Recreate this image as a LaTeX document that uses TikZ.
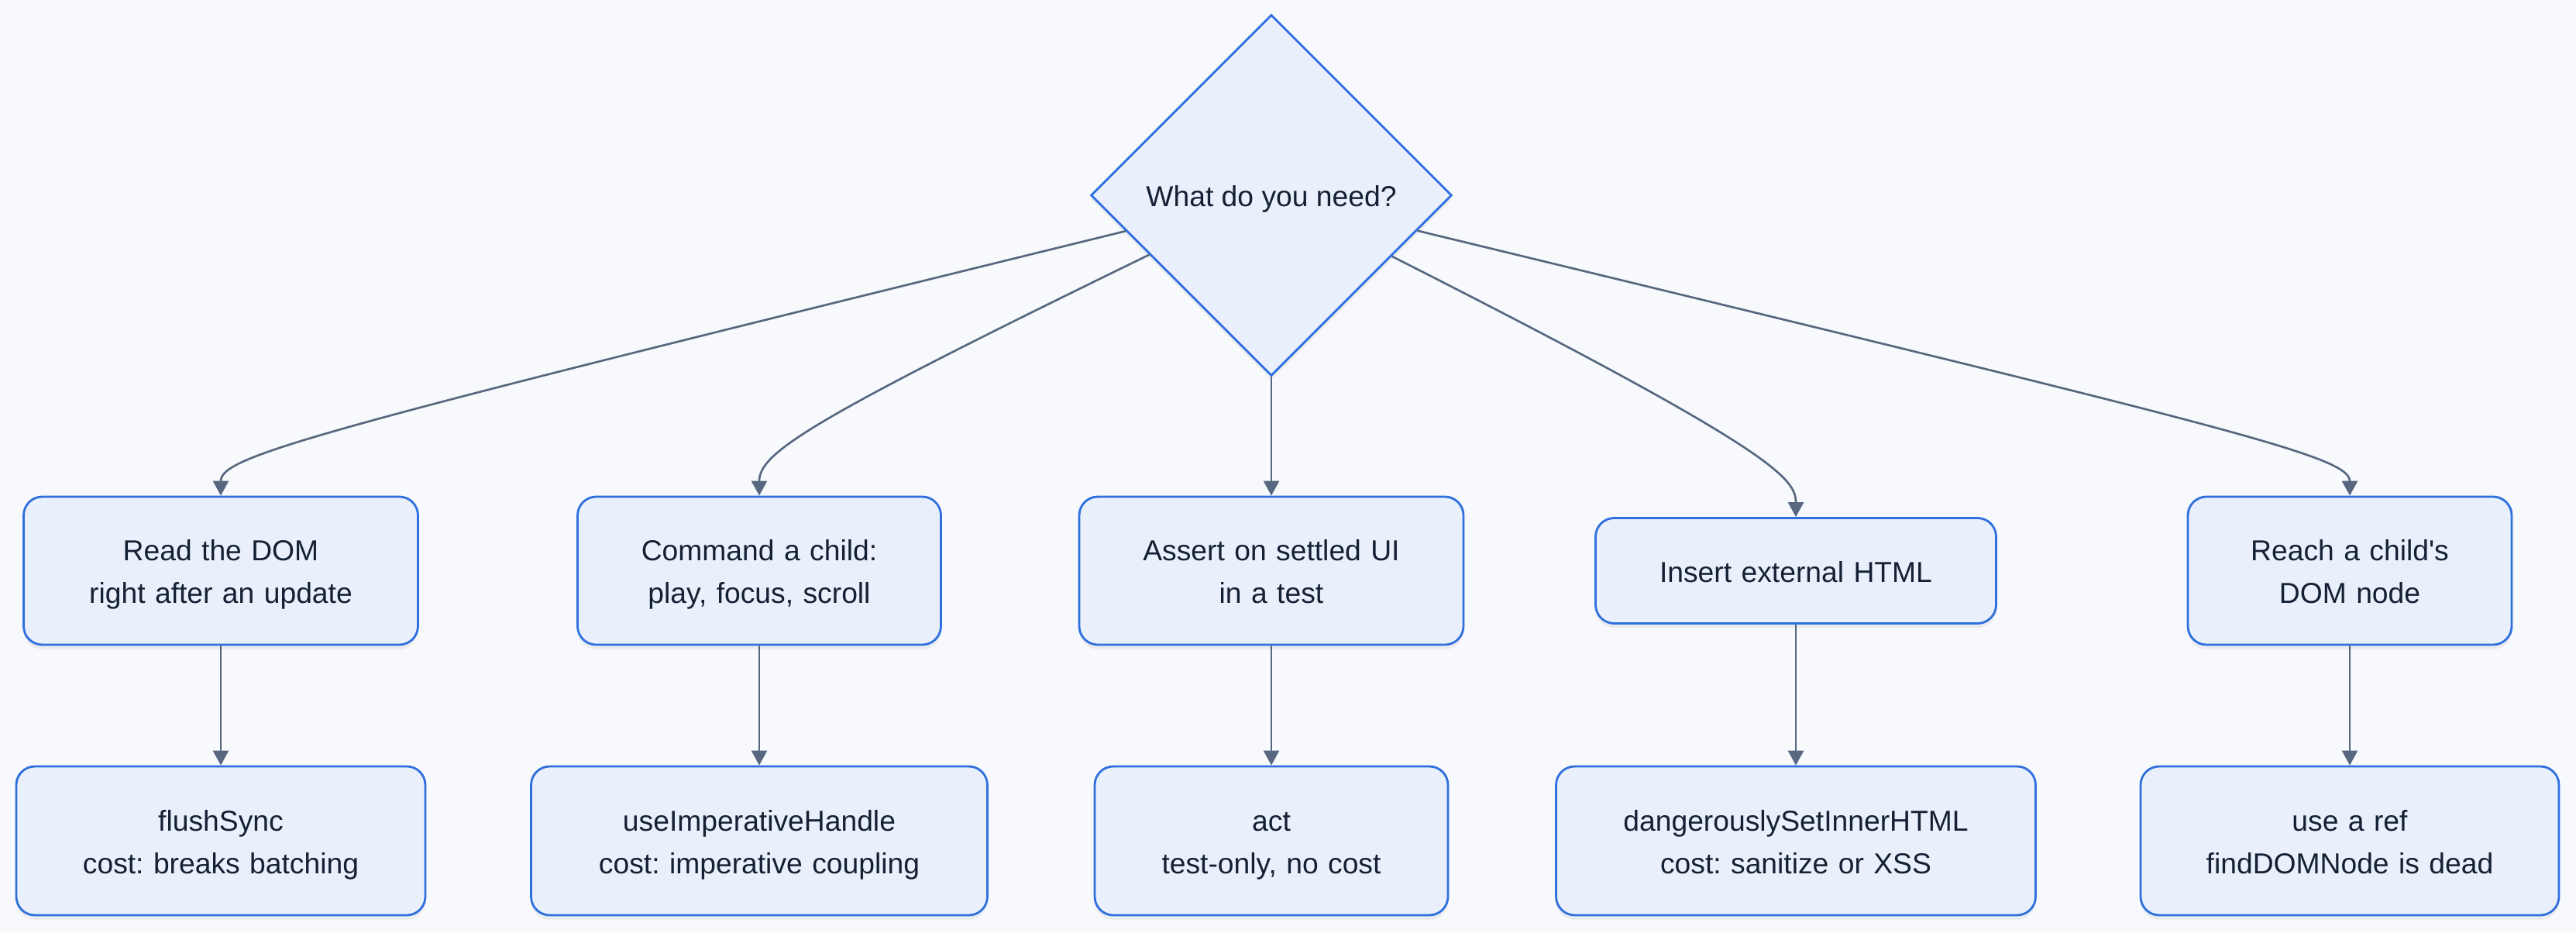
\documentclass[tikz,border=0pt]{standalone}
\usepackage{fontspec}
\setmainfont{Liberation Sans}
\usetikzlibrary{arrows.meta, shapes.geometric, calc, shadows}

\definecolor{bgc}{HTML}{F7F9FC}
\definecolor{boxfill}{HTML}{E9F0FB}
\definecolor{boxline}{HTML}{3070DE}
\definecolor{arrc}{HTML}{56677F}
\definecolor{txt}{HTML}{142033}

% line box strut: baseline sits 4.17pt below the line centre
\newcommand{\lnstrut}{\rule[-3.68pt]{0pt}{15.7pt}}

\begin{document}
\frenchspacing
\begin{tikzpicture}[
  every node/.style={font=\fontsize{10.6}{15.7}\selectfont, text=txt,
                     execute at begin node=\lnstrut,
                     execute at end node=\lnstrut},
  box/.style={draw=boxline, fill=boxfill, line width=0.8pt,
              rounded corners=0.24cm, align=center, inner sep=0pt,
              text width=#1, minimum width=#1,
              drop shadow={shadow xshift=0pt, shadow yshift=-0.06cm,
                           opacity=0.05, fill=black}},
  need/.style={box=#1, minimum height=1.91cm},
  api/.style= {box=#1, minimum height=1.92cm},
  choice/.style={diamond, aspect=1, draw=boxline, fill=boxfill,
                 line width=0.8pt, inner sep=0pt,
                 minimum width=4.66cm, minimum height=4.66cm,
                 drop shadow={shadow xshift=0pt, shadow yshift=-0.06cm,
                              opacity=0.05, fill=black}},
  arr/.style={-{Triangle[width=0.2cm, length=0.19cm]}, draw=arrc,
              line width=0.75pt}
]

\path[use as bounding box, fill=bgc] (0,0) rectangle (33.25,-12.03);

%% ---- DECISION --------------------------------------------------
\node[choice] (q) at (16.41, -2.52) {What do you need?};

%% ---- NEEDS (y=-7.365) ------------------------------------------
\node[need=5.09cm] (r1) at (2.85,  -7.365) {Read the DOM\\right after an update};
\node[need=4.69cm] (r2) at (9.80,  -7.365) {Command a child:\\play, focus, scroll};
\node[need=4.96cm] (r3) at (16.41, -7.365) {Assert on settled UI\\in a test};
\node[box=5.17cm, minimum height=1.36cm] (r4) at (23.18, -7.365)
  {Insert external HTML};
\node[need=4.18cm] (r5) at (30.33, -7.365) {Reach a child\textquotesingle s\\DOM node};

%% ---- ANSWERS (y=-10.85) ----------------------------------------
\node[api=5.28cm] (s1) at (2.85,  -10.85) {flushSync\\cost: breaks batching};
\node[api=5.89cm] (s2) at (9.80,  -10.85) {useImperativeHandle\\cost: imperative coupling};
\node[api=4.56cm] (s3) at (16.41, -10.85) {act\\test-only, no cost};
\node[api=6.19cm] (s4) at (23.18, -10.85) {dangerouslySetInnerHTML\\cost: sanitize or XSS};
\node[api=5.40cm] (s5) at (30.33, -10.85) {use a ref\\findDOMNode is dead};

%% decision -> needs
\draw[arr] (q) .. controls ($(q)+(-12.5,-3.07)$)
  and ($(r1.north)+(0,0.51)$) .. (r1.north);
\draw[arr] (q) .. controls ($(q)+(-6.0,-2.92)$)
  and ($(r2.north)+(0,0.55)$) .. (r2.north);
\draw[arr] (q.south) -- (r3.north);
\draw[arr] (q) .. controls ($(q)+(6.5,-3.29)$)
  and ($(r4.north)+(0,0.5)$) .. (r4.north);
\draw[arr] (q) .. controls ($(q)+(12.5,-3.03)$)
  and ($(r5.north)+(0,0.51)$) .. (r5.north);

%% needs -> answers
\foreach \i in {1,...,5}
  \draw[arr] (r\i) -- (s\i);

\end{tikzpicture}
\end{document}
